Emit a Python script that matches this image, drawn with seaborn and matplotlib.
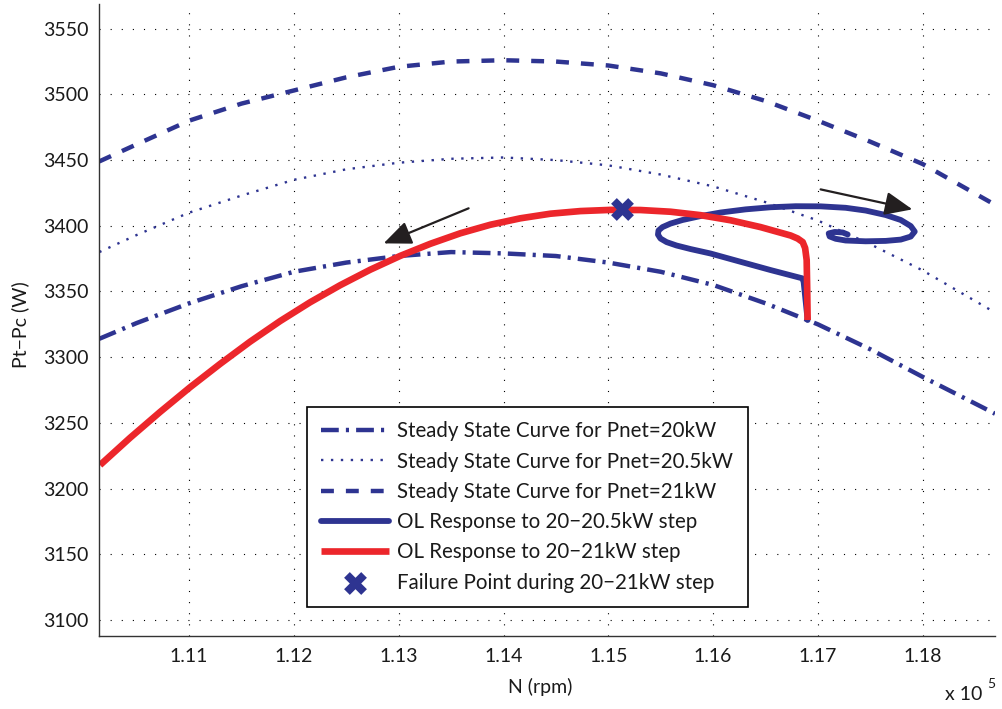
import numpy as np
import pandas as pd
import matplotlib
matplotlib.use("Agg")
import matplotlib.pyplot as plt
from matplotlib.ticker import FuncFormatter, MultipleLocator
import seaborn as sns

# ---- steady state curves (compressor speed N in rpm vs. Pt-Pc in W) ----
n_ss = [110143, 110500, 111000, 111500, 112000, 112500, 113000, 113500, 114000,
        114500, 115000, 115500, 116000, 116500, 117000, 117500, 118000, 118690]
p_ss_20 = [3314, 3326, 3341, 3354, 3365, 3372, 3377, 3380, 3379,
           3377, 3372, 3365, 3355, 3341, 3325, 3306, 3285, 3257]
p_ss_205 = [3380, 3393, 3410, 3423, 3435, 3443, 3448, 3451, 3452,
            3450, 3446, 3439, 3430, 3418, 3404, 3386, 3366, 3334]
p_ss_21 = [3449, 3462, 3480, 3493, 3503, 3513, 3521, 3525, 3526,
           3525, 3522, 3516, 3507, 3495, 3480, 3464, 3447, 3416]

# ---- open-loop response to the 20 -> 20.5 kW step ----
n_ol_205 = [116902, 116864, 116852, 116549, 116262, 115976, 115785, 115651, 115556,
            115498, 115474, 115479, 115517, 115594, 115708, 115880, 116071, 116310,
            116549, 116788, 117026, 117265, 117456, 117647, 117791, 117886, 117924,
            117886, 117791, 117647, 117456, 117265, 117170, 117112, 117103, 117160,
            117237, 117284]
p_ol_205 = [3328.3, 3357.2, 3360.0, 3366.3, 3372.6, 3378.9, 3382.3, 3385.0, 3387.6,
            3390.3, 3393.3, 3396.4, 3399.0, 3401.7, 3404.4, 3407.4, 3410.1, 3412.5,
            3414.1, 3414.9, 3414.8, 3413.7, 3411.6, 3408.2, 3404.4, 3399.8, 3395.6,
            3391.8, 3389.5, 3388.5, 3388.2, 3388.8, 3390.1, 3391.9, 3394.2, 3395.3,
            3394.9, 3393.4]

# ---- open-loop response to the 20 -> 21 kW step ----
n_ol_21 = [116902, 116898, 116893, 116878, 116855, 116807, 116740, 116453, 116167,
           115880, 115594, 115307, 115021, 114734, 114448, 114161, 113875, 113588,
           113302, 113015, 112729, 112442, 112155, 111869, 111582, 111296, 111009,
           110723, 110436, 110150]
p_ol_21 = [3328.3, 3351.1, 3373.9, 3383.1, 3387.6, 3390.3, 3392.6, 3399.0, 3404.2,
           3408.1, 3410.7, 3412.0, 3412.1, 3411.2, 3409.2, 3405.7, 3400.8, 3394.3,
           3386.3, 3377.1, 3366.6, 3354.8, 3341.8, 3327.5, 3311.8, 3294.9, 3277.1,
           3258.3, 3238.6, 3217.9]

# failure point during the 20 -> 21 kW step
n_fail = [115126]
p_fail = [3413.0]

# direction arrows: (tail, head) in data units
arrow_left = [(113667, 3413.3), (112856, 3386.6)]
arrow_right = [(117026, 3427.7), (117902, 3412.5)]

labels = [
    "Steady State Curve for Pnet=20kW",
    "Steady State Curve for Pnet=20.5kW",
    "Steady State Curve for Pnet=21kW",
    "OL Response to 20\u221220.5kW step",
    "OL Response to 20\u221221kW step",
    "Failure Point during 20\u221221kW step",
]

BLUE = "#2E3491"
RED = "#EC262B"
TXT = "#1a1a1a"

sns.set_style("white")
plt.rcParams["font.family"] = ["Lato", "DejaVu Sans"]
plt.rcParams["axes.unicode_minus"] = True

fig = plt.figure(figsize=(10.02, 7.09), dpi=100)
ax = fig.add_axes([99.3 / 1002, 73 / 709, 895.7 / 1002, 632 / 709])

ss = pd.DataFrame({"N": n_ss, "P20": p_ss_20, "P205": p_ss_205, "P21": p_ss_21})

sns.lineplot(data=ss, x="N", y="P20", ax=ax, color=BLUE, linewidth=3.2,
             sort=False, estimator=None)
h20 = ax.lines[-1]
h20.set_dashes([4.0, 1.6, 0.7, 1.6])

sns.lineplot(data=ss, x="N", y="P205", ax=ax, color=BLUE, linewidth=1.7,
             sort=False, estimator=None)
h205 = ax.lines[-1]
h205.set_dashes([1.0, 3.2])

sns.lineplot(data=ss, x="N", y="P21", ax=ax, color=BLUE, linewidth=3.2,
             sort=False, estimator=None)
h21 = ax.lines[-1]
h21.set_dashes([2.9, 2.7])

# trajectories: keep the time order of the samples (no sorting / aggregation)
sns.lineplot(x=n_ol_205, y=p_ol_205, ax=ax, color=BLUE, linewidth=4.2,
             sort=False, estimator=None,
             solid_joinstyle="round", solid_capstyle="round")
hol205 = ax.lines[-1]

sns.lineplot(x=n_ol_21, y=p_ol_21, ax=ax, color=RED, linewidth=4.8,
             sort=False, estimator=None,
             solid_joinstyle="round", solid_capstyle="butt")
hol21 = ax.lines[-1]

sns.scatterplot(x=n_fail, y=p_fail, ax=ax, marker="X", s=270, color=BLUE,
                linewidth=0, zorder=5)
hfail = ax.collections[-1]

for tail, head in (arrow_left, arrow_right):
    ax.annotate("", xy=head, xytext=tail,
                arrowprops=dict(arrowstyle="-|>,head_length=0.85,head_width=0.36",
                                color="#231F20", lw=1.6, mutation_scale=20,
                                shrinkA=0, shrinkB=0))

# axes, ticks and grid
ax.set_xlim(110143, 118690)
ax.set_ylim(3087.8, 3568.8)
ax.xaxis.set_major_locator(MultipleLocator(1000))
ax.yaxis.set_major_locator(MultipleLocator(50))
ax.xaxis.set_major_formatter(FuncFormatter(lambda v, _: f"{v / 1e5:.2f}"))
ax.yaxis.set_major_formatter(FuncFormatter(lambda v, _: f"{v:.0f}"))
ax.tick_params(direction="in", length=5, width=0.9, color="#333333",
               labelsize=14, labelcolor=TXT)
ax.tick_params(axis="y", pad=8)
ax.tick_params(axis="x", pad=9)
ax.grid(True, color="black", lw=0.8, linestyle=(0, (1, 9)))
sns.despine(ax=ax, top=True, right=True)
for s in ("left", "bottom"):
    ax.spines[s].set_color("#333333")
    ax.spines[s].set_linewidth(1.0)

ax.set_xlabel("N (rpm)", fontsize=14, color=TXT, va="center")
ax.xaxis.set_label_coords((540 - 99.3) / 895.7, (636 - 687) / 632)
ax.set_ylabel("Pt\u2212Pc (W)", fontsize=14, color=TXT, va="center")
ax.yaxis.set_label_coords((20 - 99.3) / 895.7, (636 - 325) / 632)

fig.text(945 / 1002, 1 - 695 / 709, "x 10", fontsize=14, color=TXT,
         ha="left", va="center")
fig.text(987 / 1002, 1 - 684 / 709, "5", fontsize=10, color=TXT,
         ha="left", va="center")

leg = ax.legend([h20, h205, h21, hol205, hol21, hfail], labels,
                loc="upper left", bbox_to_anchor=((307 - 99.3) / 895.7, (636 - 407) / 632),
                borderaxespad=0, fontsize=14.8, handlelength=3.3, handletextpad=0.39,
                labelspacing=0.5, borderpad=0.7, fancybox=False, framealpha=1,
                edgecolor="black", scatterpoints=1)
leg.get_frame().set_linewidth(1.2)
for t in leg.get_texts():
    t.set_color(TXT)

fig.savefig("out.png", dpi=100)
